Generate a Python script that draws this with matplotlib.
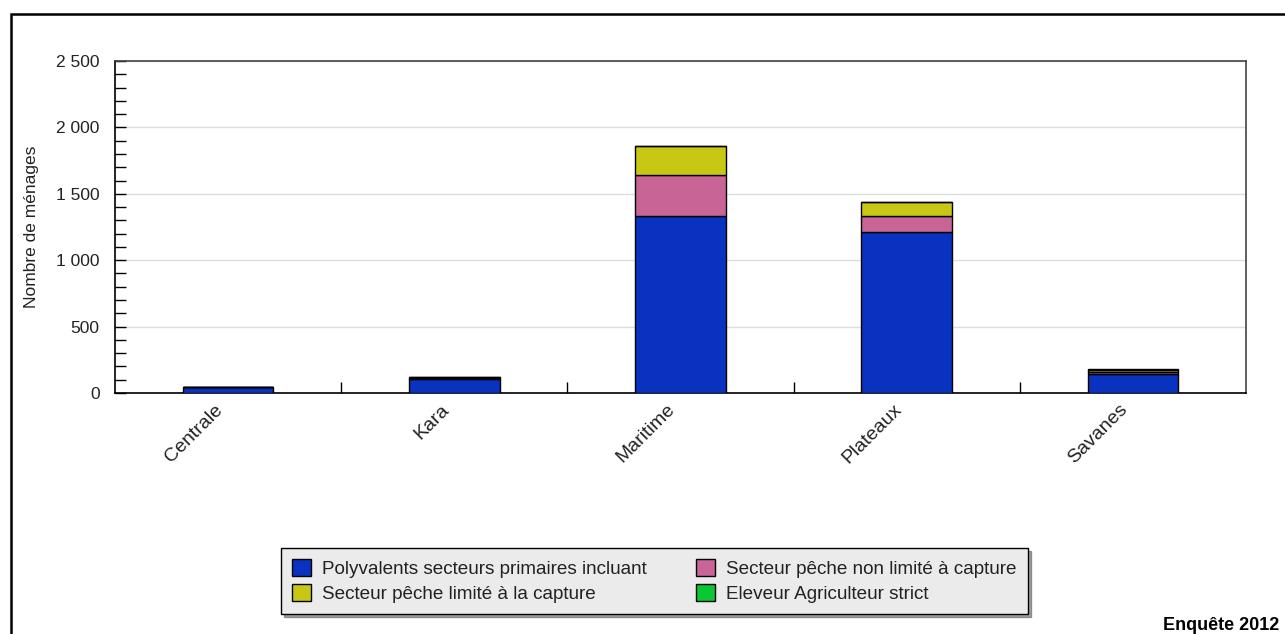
import matplotlib.pyplot as plt
from matplotlib.patches import Rectangle
from matplotlib.ticker import MultipleLocator, FuncFormatter
import numpy as np

plt.rcParams['font.family'] = ['Liberation Sans', 'DejaVu Sans']

# ===============================
# DATA
# ===============================
regions = ["Centrale", "Kara", "Maritime", "Plateaux", "Savanes"]
polyvalents = [47, 105, 1333, 1215, 145]
peche_non_limite = [0, 5, 309, 118, 12]
peche_limite = [0, 8, 215, 105, 15]
eleveur = [0, 0, 5, 0, 8]

series = [
    ("Polyvalents secteurs primaires incluant", polyvalents, "#0a32c0"),
    ("Secteur pêche non limité à capture", peche_non_limite, "#c86496"),
    ("Secteur pêche limité à la capture", peche_limite, "#c8c814"),
    ("Eleveur Agriculteur strict", eleveur, "#0ac832"),
]

# ===============================
# PLOT
# ===============================
fig = plt.figure(figsize=(12.85, 6.34), dpi=100)
ax = fig.add_axes([115 / 1285, 1 - 393 / 634, (1246 - 115) / 1285, (393 - 61) / 634])

# outer frame
fig.patches.append(Rectangle((11 / 1285, -0.1), 1.2, 1 - 14 / 634 + 0.1,
                             transform=fig.transFigure, fill=False,
                             edgecolor="black", linewidth=1.8))

x = np.arange(len(regions))
bottom = np.zeros(len(regions))
handles = {}
for name, vals, color in series:
    vals = np.array(vals, dtype=float)
    b = ax.bar(x, vals, 0.4, bottom=bottom, color=color, edgecolor="black",
               linewidth=1.0, label=name, zorder=3)
    handles[name] = b
    bottom += vals

ax.set_xlim(-0.5, 4.5)
ax.set_ylim(0, 2500)

ax.yaxis.set_major_locator(MultipleLocator(500))
ax.yaxis.set_minor_locator(MultipleLocator(100))
ax.yaxis.set_major_formatter(FuncFormatter(lambda v, p: f"{int(v):,}".replace(",", " ")))
ax.tick_params(axis="y", which="both", direction="in", length=8, width=1, pad=11,
               labelsize=12.5, labelcolor="#222222")
ax.grid(axis="y", color="#dcdcdc", linewidth=1, zorder=0)

# category labels (rotated, slightly left of bar centre)
ax.set_xticks(x)
ax.set_xticklabels([])
for i, name in enumerate(regions):
    ax.annotate(name, xy=(i, 0), xycoords=ax.get_xaxis_transform(),
                xytext=(-8, -14), textcoords="offset pixels",
                rotation=45, ha="right", va="center", rotation_mode="anchor",
                fontsize=14, color="#222222", annotation_clip=False)
ax.set_xticks(np.arange(0.5, 4.5, 1), minor=True)
ax.tick_params(axis="x", which="major", length=0)
ax.tick_params(axis="x", which="minor", direction="in", length=8, width=1)

for s in ax.spines.values():
    s.set_linewidth(1.2)
ax.spines["top"].set_color("#444444")
ax.spines["right"].set_color("#444444")

ax.set_ylabel("Nombre de ménages", fontsize=12.5, labelpad=12, color="#222222")

order = ["Polyvalents secteurs primaires incluant", "Secteur pêche limité à la capture",
         "Secteur pêche non limité à capture", "Eleveur Agriculteur strict"]
leg = fig.legend([handles[n] for n in order], order, ncol=2,
                 loc="center", bbox_to_anchor=((277 + 1032) / 2 / 1285, 1 - 581 / 634),
                 frameon=True, fancybox=False, shadow=True, fontsize=13.6,
                 handlelength=1.0, handleheight=1.0, handletextpad=0.6,
                 columnspacing=2.6, borderpad=0.6, labelspacing=0.3)
leg.get_frame().set_facecolor("#ebebeb")
leg.get_frame().set_edgecolor("black")
leg.get_frame().set_alpha(1)
for t in leg.get_texts():
    t.set_color("#222222")

fig.text(1163 / 1285, 1 - 626 / 634, "Enquête 2012", fontsize=13, fontweight="bold",
         ha="left", va="center")

fig.savefig("out.png", dpi=100)
